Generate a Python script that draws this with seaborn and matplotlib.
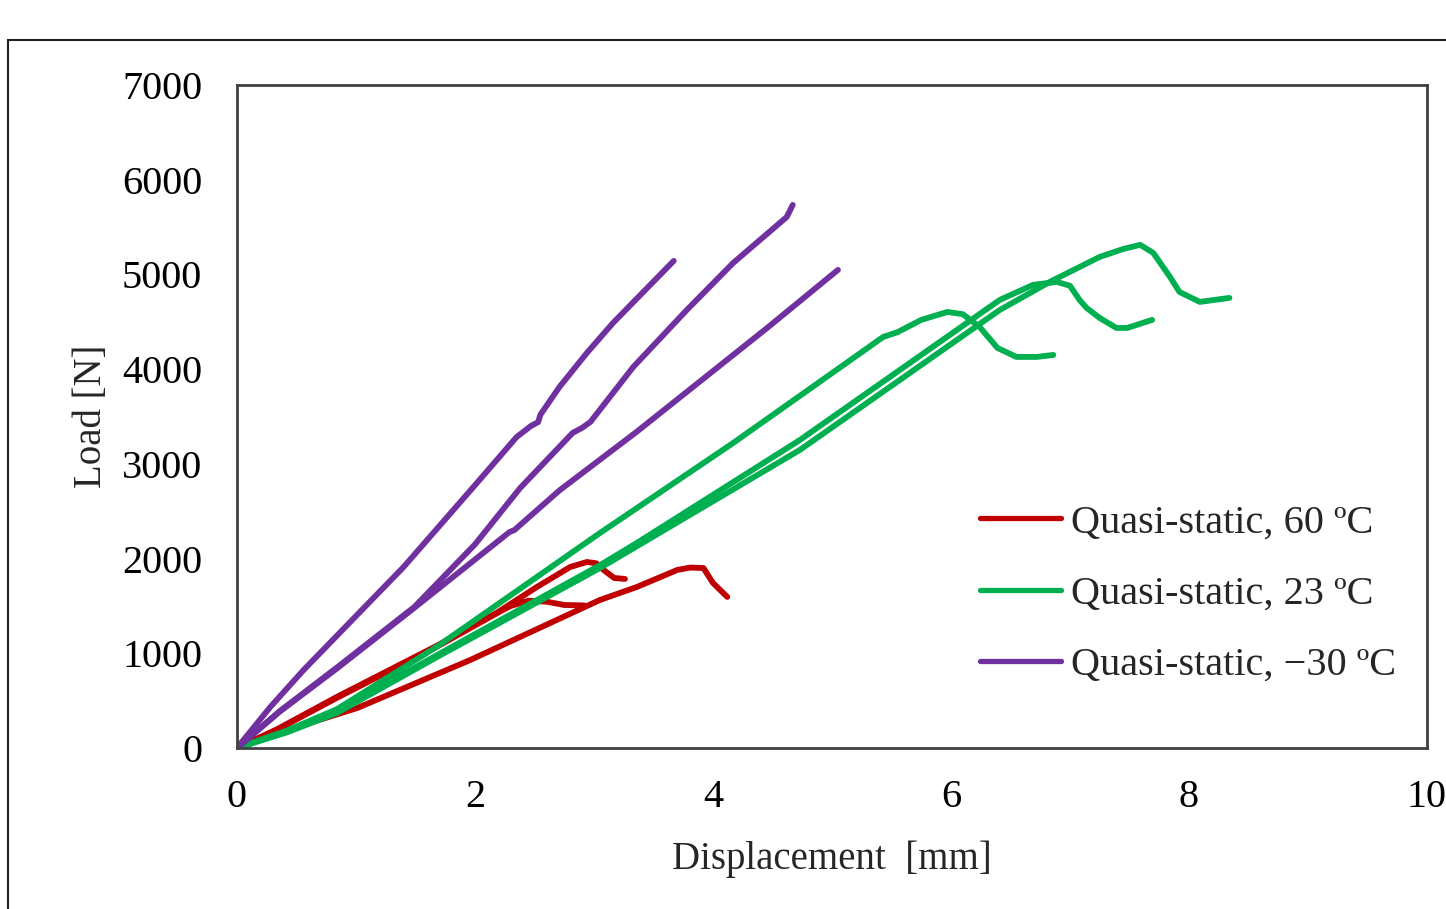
import numpy as np
import pandas as pd
import matplotlib
matplotlib.use("Agg")
import matplotlib.pyplot as plt
from matplotlib.patches import Rectangle
import seaborn as sns

# Digitised load-displacement curves (x in mm, y in N)
# 60 C
r1_x = [0, 0.34, 1.01, 1.96, 3.05, 3.36, 3.70, 3.81, 3.92, 4.00, 4.12]
r1_y = [0, 158, 422, 929, 1563, 1700, 1880, 1905, 1900, 1742, 1595]
r2_x = [0, 0.34, 0.84, 1.40, 1.68, 2.18, 2.52, 2.80, 2.94, 3.02, 3.08, 3.17, 3.26]
r2_y = [0, 200, 540, 900, 1080, 1425, 1700, 1911, 1964, 1950, 1880, 1795, 1785]
r3_x = [0, 0.34, 0.84, 1.40, 1.68, 2.18, 2.30, 2.45, 2.60, 2.75, 2.92]
r3_y = [0, 195, 530, 890, 1070, 1420, 1500, 1555, 1545, 1510, 1505]

# 23 C
g1_x = [0, 0.42, 0.84, 1.68, 3.05, 4.17, 5.43, 5.55, 5.75, 5.97, 6.10, 6.24, 6.39, 6.55, 6.72, 6.86]
g1_y = [0, 185, 410, 1070, 2270, 3221, 4340, 4390, 4520, 4604, 4580, 4446, 4224, 4129, 4129, 4150]
g2_x = [0, 0.42, 0.84, 1.68, 3.05, 3.36, 4.73, 6.41, 6.69, 6.89, 7.00, 7.08, 7.14, 7.25, 7.39, 7.48, 7.69]
g2_y = [0, 175, 390, 980, 1930, 2165, 3252, 4731, 4890, 4921, 4880, 4731, 4646, 4540, 4435, 4435, 4520]
g3_x = [0, 0.42, 0.84, 1.68, 3.05, 3.36, 4.73, 6.41, 6.83, 7.25, 7.45, 7.59, 7.70, 7.84, 7.92, 8.09, 8.34]
g3_y = [0, 165, 370, 960, 1900, 2130, 3147, 4625, 4921, 5185, 5270, 5312, 5227, 4974, 4815, 4710, 4752]

# -30 C
p1_x = [0, 0.28, 0.56, 1.40, 1.98, 2.35, 2.47, 2.53, 2.55, 2.71, 2.94, 3.16, 3.67]
p1_y = [0, 433, 824, 1911, 2746, 3284, 3400, 3440, 3520, 3812, 4171, 4488, 5143]
p2_x = [0, 0.36, 0.84, 1.49, 2.00, 2.38, 2.82, 2.90, 2.97, 3.33, 3.78, 4.17, 4.62, 4.67]
p2_y = [0, 390, 850, 1489, 2150, 2746, 3326, 3380, 3443, 4023, 4625, 5122, 5607, 5734]
p3_x = [0, 0.36, 0.84, 1.49, 2.29, 2.33, 2.71, 3.36, 3.83, 4.45, 5.05]
p3_y = [0, 385, 840, 1480, 2280, 2300, 2720, 3340, 3810, 4430, 5048]

labels = ["Quasi-static, 60 \u00baC", "Quasi-static, 23 \u00baC", "Quasi-static, \u221230 \u00baC"]
colors = ["#C00000", "#00B050", "#7030A0"]

runs = [
    (r1_x, r1_y, labels[0], "r1"), (r2_x, r2_y, labels[0], "r2"), (r3_x, r3_y, labels[0], "r3"),
    (g1_x, g1_y, labels[1], "g1"), (g2_x, g2_y, labels[1], "g2"), (g3_x, g3_y, labels[1], "g3"),
    (p1_x, p1_y, labels[2], "p1"), (p2_x, p2_y, labels[2], "p2"), (p3_x, p3_y, labels[2], "p3"),
]
frames = []
for xs, ys, lab, rid in runs:
    frames.append(pd.DataFrame({"disp": xs, "load": ys, "cond": lab, "run": rid}))
df = pd.concat(frames, ignore_index=True)

sns.set_style("white")
plt.rcParams["font.family"] = ["Liberation Serif", "DejaVu Serif"]

fig = plt.figure(figsize=(14.46, 9.09), dpi=100)
ax = fig.add_axes([237 / 1446, 1 - 748 / 909, (1427 - 237) / 1446, (748 - 85) / 909])

sns.lineplot(data=df, x="disp", y="load", hue="cond", units="run", estimator=None,
             sort=False, hue_order=labels, palette=colors, linewidth=4.2, ax=ax)

ax.set_xlim(0, 10)
ax.set_ylim(0, 7000)
ax.set_xticks(range(0, 11, 2))
ax.set_yticks(range(0, 7001, 1000))
ax.tick_params(length=0, labelsize=29, colors="black")
ax.tick_params(axis="y", pad=25)
ax.tick_params(axis="x", pad=22)
ax.set_xlabel("Displacement  [mm]", fontsize=28, labelpad=18)
ax.set_ylabel("Load [N]", fontsize=28, labelpad=9)
for s in ax.spines.values():
    s.set_color("#404040")
    s.set_linewidth(2)

handles, labs = ax.get_legend_handles_labels()
leg = ax.legend(handles, labs, loc="upper left", frameon=False, fontsize=29,
                handlelength=2.0, handletextpad=0.25, labelspacing=0.85,
                borderpad=0, borderaxespad=0)
leg.set_bbox_to_anchor((980 / 1446, 1 - 504 / 909), transform=fig.transFigure)
for h in leg.get_lines():
    h.set_linewidth(3.8)

# outer chart-area border (only left and top visible)
fig.add_artist(Rectangle((8 / 1446, -0.2), 1.2, 0.2 + (909 - 40) / 909,
                         transform=fig.transFigure, fill=False,
                         edgecolor="#202020", linewidth=1.5))

fig.savefig("out.png", dpi=100)
